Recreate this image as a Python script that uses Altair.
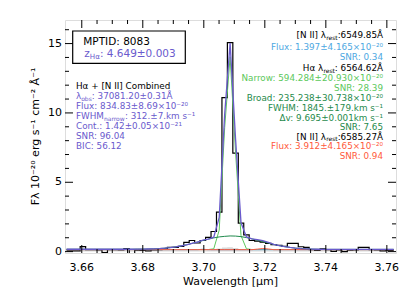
import altair as alt
import pandas as pd

# ---------------- data ----------------
wavelength = [3.65501, 3.65680, 3.65858, 3.66037, 3.66216, 3.66394, 3.66573, 3.66752, 3.66931, 3.67109,
              3.67288, 3.67467, 3.67646, 3.67824, 3.68003, 3.68182, 3.68361, 3.68539, 3.68718, 3.68897,
              3.69075, 3.69254, 3.69433, 3.69612, 3.69790, 3.69969, 3.70148, 3.70326, 3.70505, 3.70684,
              3.70862,
              3.71041, 3.71220, 3.71398, 3.71577, 3.71756, 3.71935, 3.72113, 3.72292, 3.72471, 3.72649,
              3.72828, 3.73007, 3.73186, 3.73364, 3.73543, 3.73722, 3.73900, 3.74079, 3.74258, 3.74436,
              3.74615, 3.74794, 3.74973, 3.75151, 3.75330, 3.75509, 3.75688, 3.75866, 3.76045, 3.76224]

flux = [0.05, 0.05, 0.05, 0.36, 0.15, 0.14, 0.12, -0.07, 0.14, 0.14,
        0.12, 0.22, -0.20, 0.10, 0.08, 0.05, 0.12, 0.15, 0.20, 0.30,
        0.30, 0.38, 0.67, 0.80, 0.62, 0.80, 1.02, 1.45, 2.85, 11.10,
        15.07,
        7.10, 2.05, 1.20, 0.80, 0.75, 0.68, 0.60, 0.50, 0.45, 0.38,
        0.60, 0.60, 0.35, 0.30, 0.15, 0.08, 0.20, 0.15, 0.02, 0.12,
        0.00, 0.10, 0.12, 0.30, 0.30, 0.15, 0.12, 0.05, 0.08, 0.08]

model_total = [0.17, 0.17, 0.17, 0.17, 0.17, 0.17, 0.17, 0.17, 0.17, 0.17,
               0.17, 0.17, 0.17, 0.18, 0.18, 0.19, 0.20, 0.22, 0.25, 0.29,
               0.34, 0.41, 0.49, 0.59, 0.69, 0.83, 0.90, 1.04, 2.46, 9.90,
               15.03,
               8.12, 2.08, 1.06, 0.92, 0.86, 0.80, 0.67, 0.52, 0.43, 0.36,
               0.30, 0.25, 0.22, 0.20, 0.18, 0.17, 0.16, 0.16, 0.16, 0.16,
               0.16, 0.16, 0.16, 0.16, 0.16, 0.16, 0.16, 0.16, 0.16, 0.16]

model_broad = [0.17, 0.17, 0.17, 0.17, 0.17, 0.17, 0.17, 0.17, 0.17, 0.17,
               0.17, 0.17, 0.17, 0.18, 0.18, 0.19, 0.20, 0.22, 0.25, 0.29,
               0.34, 0.41, 0.49, 0.59, 0.69, 0.80, 0.90, 0.99, 1.06, 1.10,
               1.13,
               1.12, 1.08, 1.01, 0.92, 0.82, 0.72, 0.62, 0.52, 0.43, 0.36,
               0.30, 0.25, 0.22, 0.20, 0.18, 0.17, 0.16, 0.16, 0.16, 0.16,
               0.16, 0.16, 0.16, 0.16, 0.16, 0.16, 0.16, 0.16, 0.16, 0.16]

model_narrow = [0.15] * 27 + [0.20, 1.55, 8.95, 14.05, 7.15, 1.15, 0.20] + [0.15] * 27

model_nii_red = [0.14] * 35 + [0.18, 0.22, 0.19] + [0.14] * 23

model_nii_blue = [0.14] * 25 + [0.17] + [0.14] * 35

error = [0.10] * 27 + [0.14, 0.22, 0.30, 0.32, 0.26, 0.18, 0.12] + [0.10] * 27

x_major_ticks = [3.66, 3.68, 3.70, 3.72, 3.74, 3.76]
x_tick_labels = ["3.66", "3.68", "3.70", "3.72", "3.74", "3.76"]
x_minor_ticks = [3.665, 3.67, 3.675, 3.685, 3.69, 3.695, 3.705, 3.71, 3.715,
                 3.725, 3.73, 3.735, 3.745, 3.75, 3.755]
y_major_ticks = [0, 5, 10, 15]
y_tick_labels = ["0", "5", "10", "15"]
y_minor_ticks = [1, 2, 3, 4, 6, 7, 8, 9, 11, 12, 13, 14, 16]

# ---------------- styling ----------------
FONT = "DejaVu Sans"
PURPLE = "#6a5acd"
LBLUE = "#4ea8e2"
LGREEN = "#5cc85c"
DGREEN = "#1f8a4c"
RED = "#ff5a3c"
W, H = 331, 233

df = pd.DataFrame({
    "wavelength": wavelength, "flux": flux, "total": model_total, "broad": model_broad,
    "narrow": model_narrow, "nii_r": model_nii_red, "nii_b": model_nii_blue, "err": error,
})

xs = alt.Scale(domain=[3.6545, 3.7630], nice=False, zero=False)
ys = alt.Scale(domain=[-0.1, 16.7], nice=False, zero=False)

base = alt.Chart(df)
xenc = alt.X("wavelength:Q", scale=xs, axis=None)

err_layer = base.mark_area(interpolate="step", color="#d9d9d9", clip=True).encode(
    x=xenc, y=alt.Y("err:Q", scale=ys, axis=None), y2=alt.value(H))

data_layer = base.mark_line(interpolate="step", color="black", strokeWidth=1.2, clip=True).encode(
    x=xenc, y=alt.Y("flux:Q", scale=ys, axis=None))

def model(col, color, width=1.0):
    return base.mark_line(color=color, strokeWidth=width, clip=True).encode(
        x=xenc, y=alt.Y(f"{col}:Q", scale=ys, axis=None))

layers = [err_layer, data_layer,
          model("narrow", LGREEN, 1.0),
          model("nii_b", LBLUE, 1.0),
          model("nii_r", RED, 1.0),
          model("broad", DGREEN, 1.0),
          model("total", PURPLE, 1.3)]

# inward ticks on all four sides
def xticks(vals, length):
    d = alt.Chart(pd.DataFrame({"v": vals}))
    enc = alt.X("v:Q", scale=xs, axis=None)
    return [d.mark_rule(color="black", strokeWidth=1).encode(x=enc, y=alt.value(H - length), y2=alt.value(H)),
            d.mark_rule(color="black", strokeWidth=1).encode(x=enc, y=alt.value(0), y2=alt.value(length))]

def yticks(vals, length):
    d = alt.Chart(pd.DataFrame({"v": vals}))
    enc = alt.Y("v:Q", scale=ys, axis=None)
    return [d.mark_rule(color="black", strokeWidth=1).encode(y=enc, x=alt.value(0), x2=alt.value(length)),
            d.mark_rule(color="black", strokeWidth=1).encode(y=enc, x=alt.value(W - length), x2=alt.value(W))]

layers += xticks(x_major_ticks, 8) + xticks(x_minor_ticks, 4)
layers += yticks(y_major_ticks, 8) + yticks(y_minor_ticks, 4)

# tick labels
layers.append(alt.Chart(pd.DataFrame({"v": x_major_ticks, "lab": x_tick_labels})).mark_text(
    align="center", baseline="middle", font=FONT, fontSize=11, color="black").encode(
    x=alt.X("v:Q", scale=xs, axis=None), y=alt.value(H + 15), text="lab:N"))
layers.append(alt.Chart(pd.DataFrame({"v": y_major_ticks, "lab": y_tick_labels})).mark_text(
    align="right", baseline="middle", font=FONT, fontSize=11, color="black").encode(
    y=alt.Y("v:Q", scale=ys, axis=None), x=alt.value(-3), text="lab:N"))

# ---------------- annotations ----------------
one = alt.Chart(pd.DataFrame({"d": [0]}))
CW = {' ': .318, '+': .838, '.': .318, ':': .337, '[': .390, ']': .390, '±': .838, '×': .838,
      'A': .684, 'B': .686, 'C': .698, 'D': .770, 'F': .575, 'H': .752, 'I': .295, 'M': .863,
      'N': .748, 'P': .603, 'R': .695, 'S': .635, 'T': .611, 'W': .989, 'Å': .684, 'Δ': .684,
      'a': .613, 'b': .635, 'c': .550, 'd': .635, 'e': .615, 'i': .278, 'k': .579, 'l': .278,
      'm': .974, 'n': .634, 'o': .612, 'r': .411, 's': .521, 't': .392, 'u': .634, 'v': .592,
      'w': .818, 'x': .592, 'z': .525, 'λ': .592, 'α': .659, '⁻': .42, '¹': .40, '²': .40,
      '⁰': .40}

def tw(s, size):
    return sum(CW.get(c, .636) for c in s) * size

def piece(s, x, y, color, size, align):
    return one.mark_text(text=s, align=align, baseline="middle", font=FONT, fontSize=size,
                         color=color).encode(x=alt.value(x), y=alt.value(y))

def line(parts, x, y, color, size=8.8, align="left"):
    """parts: list of (text, is_subscript)"""
    out = []
    if align == "left":
        cur = x
        for s, sub in parts:
            sz = size * 0.68 if sub else size
            out.append(piece(s, cur, y + (2.5 if sub else 0), color, sz, "left"))
            cur += tw(s, sz)
    else:
        cur = x
        for s, sub in reversed(parts):
            sz = size * 0.68 if sub else size
            out.append(piece(s, cur, y + (2.5 if sub else 0), color, sz, "right"))
            cur -= tw(s, sz)
    return out

ann = []
ann.append(one.mark_rect(fillOpacity=0, stroke="black", strokeWidth=1.2).encode(
    x=alt.value(7.7), x2=alt.value(120.3), y=alt.value(11), y2=alt.value(43.3)))
ann += line([("MPTID: 8083", False)], 18.3, 21.7, "black", 10.5)
ann += line([("z", False), ("Hα", True), (": 4.649±0.003", False)], 19.3, 34, PURPLE, 10.5)

LX = 11
ann += line([("Hα + [N II] Combined", False)], LX, 66, "black")
ann += line([("λ", False), ("obs", True), (": 37081.20±0.31Å", False)], LX, 76.3, PURPLE)
ann += line([("Flux: 834.83±8.69×10⁻²⁰", False)], LX, 86, PURPLE)
ann += line([("FWHM", False), ("narrow", True), (": 312.±7.km s⁻¹", False)], LX, 96, PURPLE)
ann += line([("Cont.: 1.42±0.05×10⁻²¹", False)], LX, 106, PURPLE)
ann += line([("SNR: 96.04", False)], LX, 116, PURPLE)
ann += line([("BIC: 56.12", False)], LX, 125.5, PURPLE)

RX = 318
ann += line([("[N II] λ", False), ("rest", True), (":6549.85Å", False)], RX, 15, "black", align="right")
ann += line([("Flux: 1.397±4.165×10⁻²⁰", False)], RX, 26.5, LBLUE, align="right")
ann += line([("SNR: 0.34", False)], RX, 37, LBLUE, align="right")
ann += line([("Hα λ", False), ("rest", True), (": 6564.62Å", False)], RX, 48, "black", align="right")
ann += line([("Narrow: 594.284±20.930×10⁻²⁰", False)], RX, 58.3, LGREEN, align="right")
ann += line([("SNR: 28.39", False)], RX, 68, LGREEN, align="right")
ann += line([("Broad: 235.238±30.738×10⁻²⁰", False)], RX, 78.3, DGREEN, align="right")
ann += line([("FWHM: 1845.±179.km s⁻¹", False)], RX, 88, DGREEN, align="right")
ann += line([("Δv: 9.695±0.001km s⁻¹", False)], RX, 97.5, DGREEN, align="right")
ann += line([("SNR: 7.65", False)], RX, 107, DGREEN, align="right")
ann += line([("[N II] λ", False), ("rest", True), (":6585.27Å", False)], RX, 116.7, "black", align="right")
ann += line([("Flux: 3.912±4.165×10⁻²⁰", False)], RX, 126, RED, align="right")
ann += line([("SNR: 0.94", False)], RX, 135.5, RED, align="right")

# axis titles
ann.append(one.mark_text(text="Wavelength [μm]", align="center", baseline="middle", font=FONT,
                         fontSize=11, color="black").encode(x=alt.value(W / 2), y=alt.value(H + 28.5)))
ann.append(one.mark_text(text="Fλ 10⁻²⁰ erg s⁻¹ cm⁻² Å⁻¹", align="center", baseline="middle",
                         font=FONT, fontSize=11, color="black", angle=270).encode(
    x=alt.value(-29), y=alt.value(H / 2)))

chart = alt.layer(*layers, *ann).properties(
    width=W, height=H, autosize="none",
    padding={"left": 57, "top": 12, "right": 11, "bottom": 36},
).configure_view(stroke="black", strokeWidth=1.2).configure(background="white")

chart.save("out.html", embed_options={"renderer": "svg", "actions": False})
